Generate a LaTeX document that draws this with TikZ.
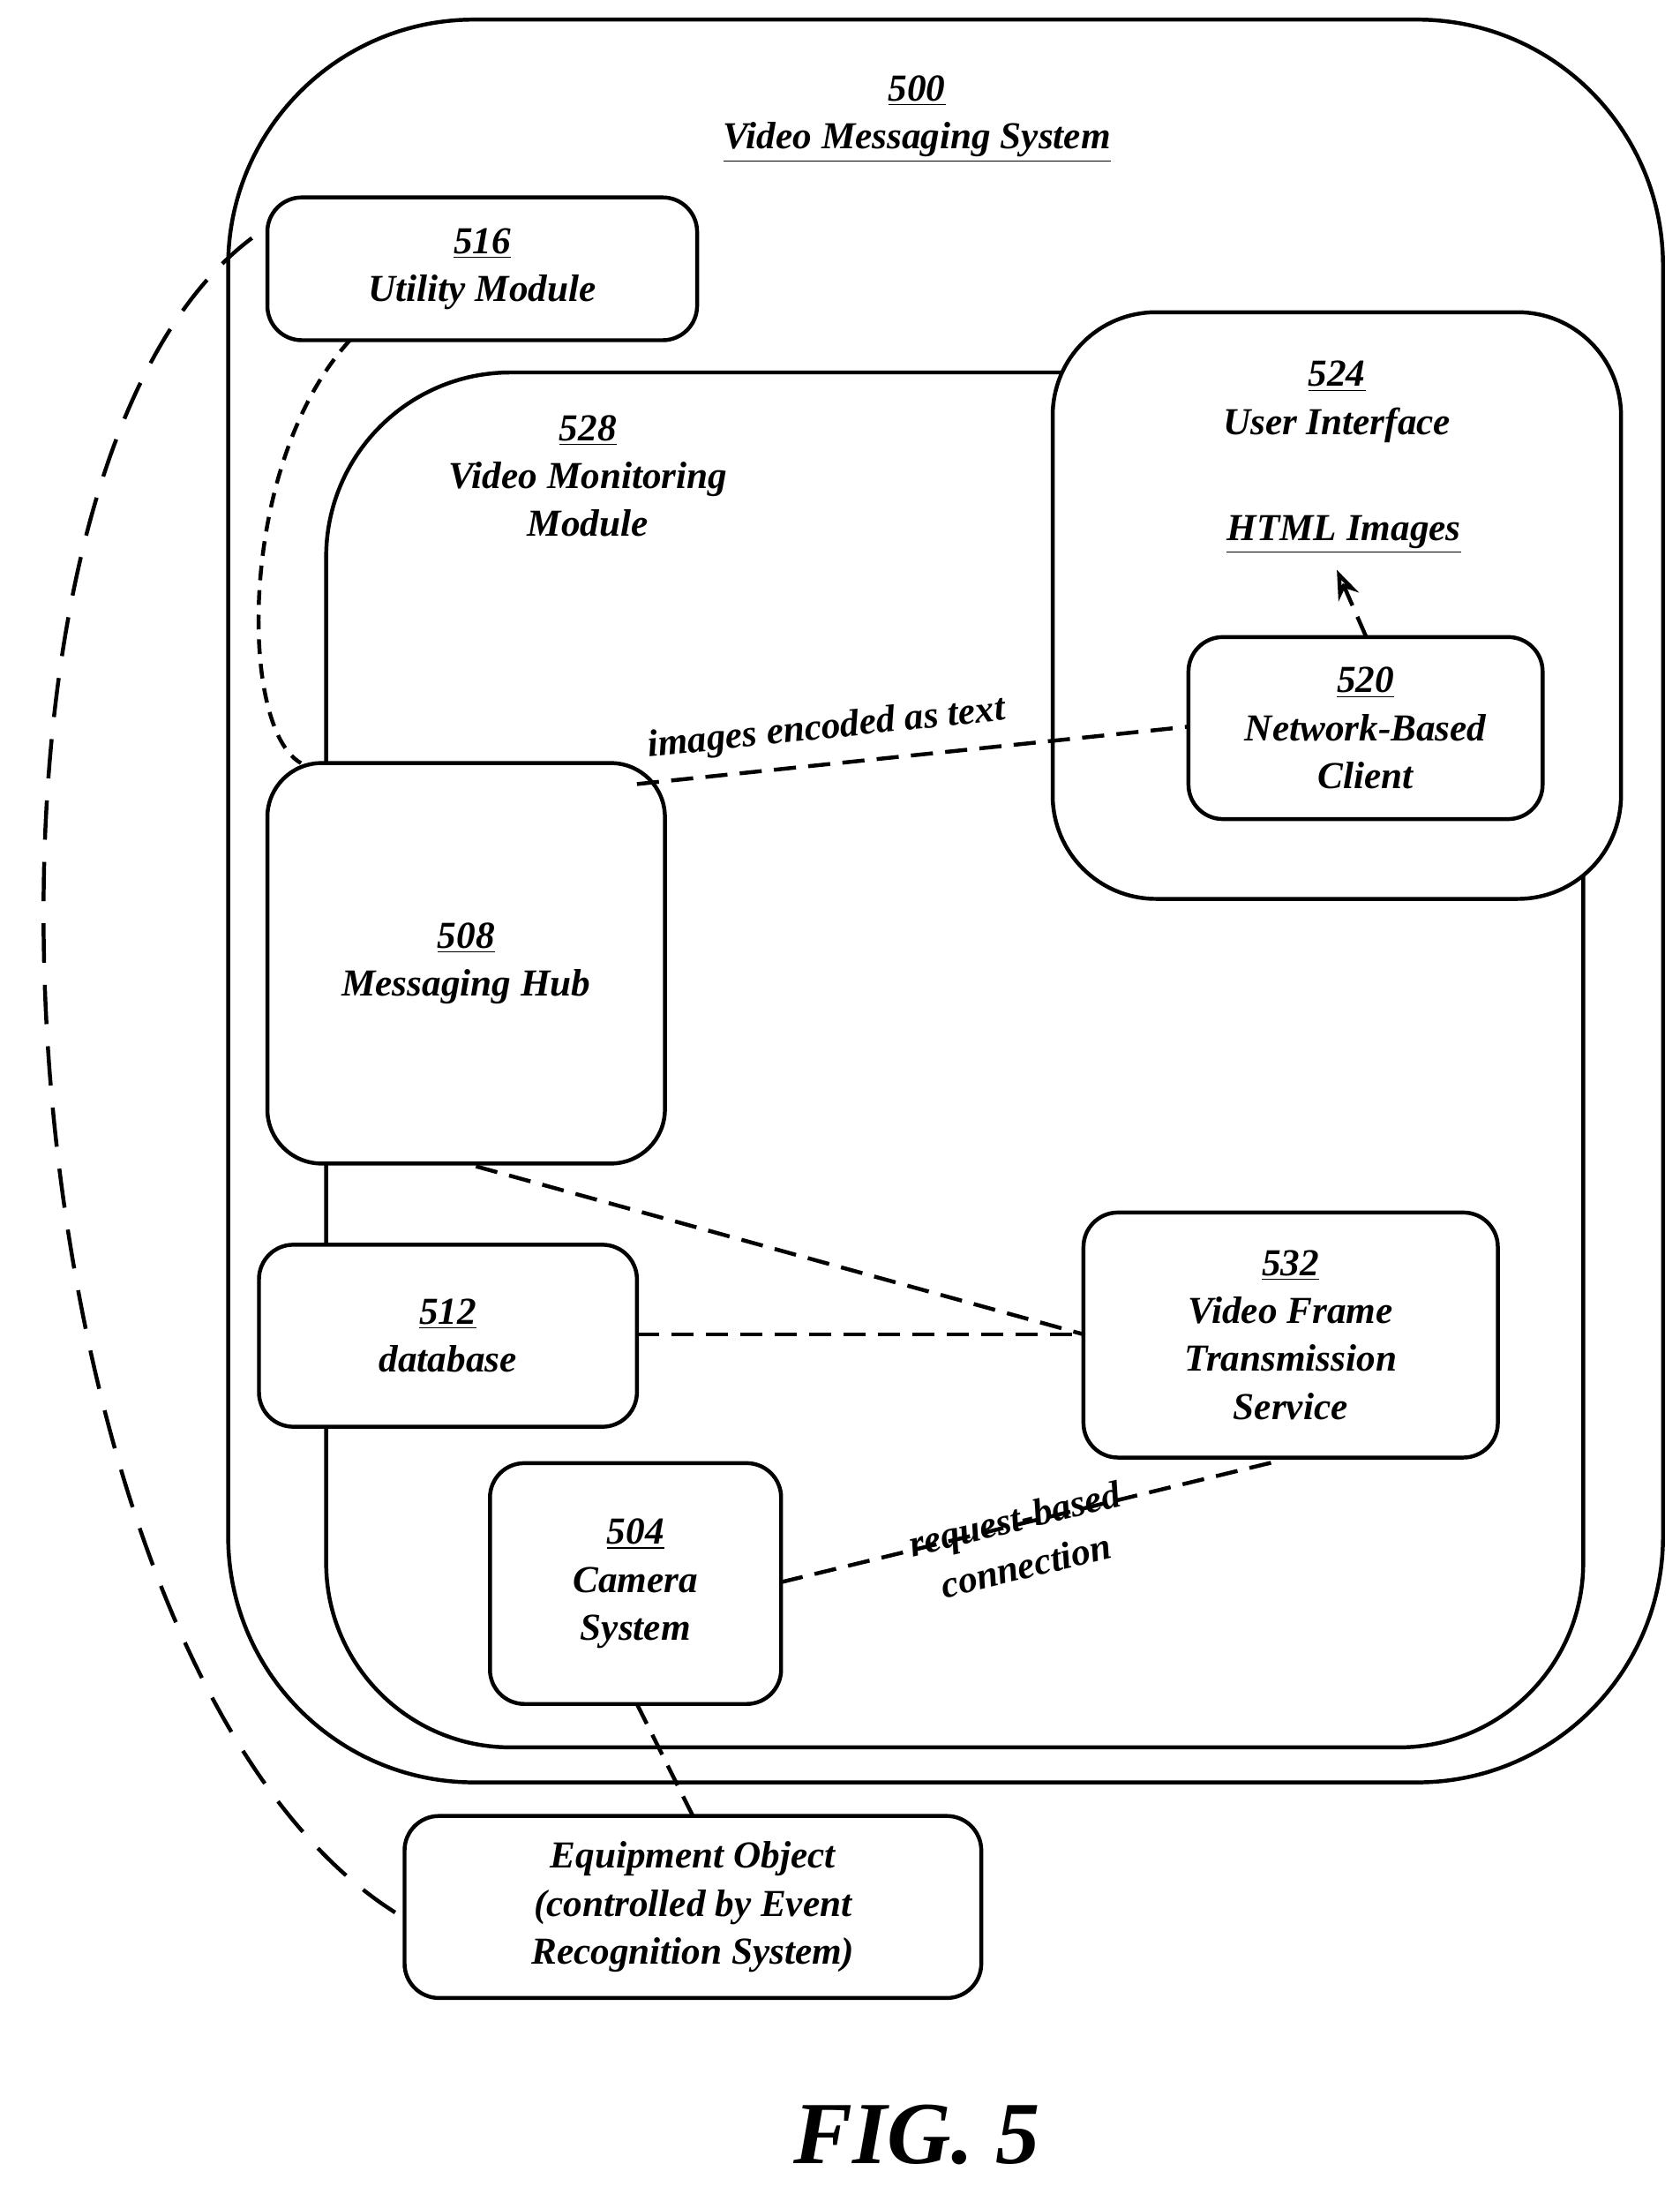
\documentclass[tikz,border=0pt]{standalone}
\usepackage{fontspec}
\setmainfont{Liberation Serif}
\usetikzlibrary{arrows.meta,shapes}

\begin{document}
\begin{tikzpicture}[x=0.02cm,y=-0.02cm,
    box/.style={draw,line width=1.6pt,fill=white,rounded corners=#1},
    box/.default=14pt,
    lbl/.style={font=\fontsize{15.5}{19.5}\selectfont\bfseries\itshape,align=center},
    conn/.style={line width=1.6pt,dash pattern=on 9pt off 5pt}]
%      \draw [help lines] (0,0) grid (1200,1567);
      \useasboundingbox (0,0) rectangle (1200,1567);
      % containers
      \draw [box=100pt] (163,14) rectangle (1188,1273);
      \node [lbl] (t500) at (655,85) {\underline{500}\\\underline{Video Messaging System}};
      \draw [box=75pt] (233,266) rectangle (1131,1248);
      \node [lbl] (t528) at (420,340) {\underline{528}\\Video Monitoring\\Module};
      \draw [box=42pt] (752,223) rectangle (1158,642);
      \node [lbl] (t524) at (955,287) {\underline{524}\\User Interface};
      \node [lbl] (html) at (960,382) {\underline{HTML Images}};
      % modules
      \draw [box] (191,141) rectangle (498,243) node [lbl,midway] (ut) {\underline{516}\\Utility Module};
      \draw [box] (849,455) rectangle (1102,585) node [lbl,midway] (nc) {\underline{520}\\Network-Based\\Client};
      \draw [box=22pt] (191,545) rectangle (475,831) node [lbl,midway] (hub) {\underline{508}\\Messaging Hub};
      \draw [box] (185,889) rectangle (455,1019) node [lbl,midway] (db) {\underline{512}\\database};
      \draw [box] (774,866) rectangle (1070,1041) node [lbl,midway] (vf) {\underline{532}\\Video Frame\\Transmission\\Service};
      \draw [box] (350,1045) rectangle (558,1217) node [lbl,midway] (cam) {\underline{504}\\Camera\\System};
      \draw [box] (289,1297) rectangle (701,1427) node [lbl,midway] (eq) {Equipment Object\\(controlled by Event\\Recognition System)};
      \node [font=\fontsize{36}{40}\selectfont\bfseries\itshape] (fig) at (655,1525) {FIG. 5};
      % connectors
      \coordinate (utB) at (250,243);  \coordinate (hubTL) at (215,545);
      \coordinate (utL) at (180,170);  \coordinate (eqL) at (289,1370);
      \coordinate (hubT) at (455,560); \coordinate (ncL) at (849,519);
      \coordinate (ncT) at (976,455);  \coordinate (hubB) at (340,833);
      \coordinate (dbR) at (455,953);  \coordinate (vfL) at (774,953);
      \coordinate (camR) at (558,1130); \coordinate (vfB) at (915,1043);
      \coordinate (camB) at (455,1217); \coordinate (eqT) at (495,1297);
      \draw [conn,dash pattern=on 6pt off 4pt] (utB) .. controls (170,330) and (170,520) .. (hubTL);
      \draw [conn,dash pattern=on 16pt off 9pt] (utL) .. controls (-60,350) and (0,1200) .. (eqL);
      \draw [conn] (hubT) -- (ncL) node [lbl,pos=0.35,above=3pt,sloped] {images encoded as text};
      \draw [conn,-{Stealth[length=12pt,open]}] (ncT) -- (955,407);
      \draw [conn] (hubB) -- (vfL);
      \draw [conn] (dbR) -- (vfL);
      \draw [conn] (camR) -- (vfB) node [lbl,pos=0.47,yshift=-0.25cm,sloped] {request-based\\connection};
      \draw [conn] (camB) -- (eqT);
\end{tikzpicture}
\end{document}
